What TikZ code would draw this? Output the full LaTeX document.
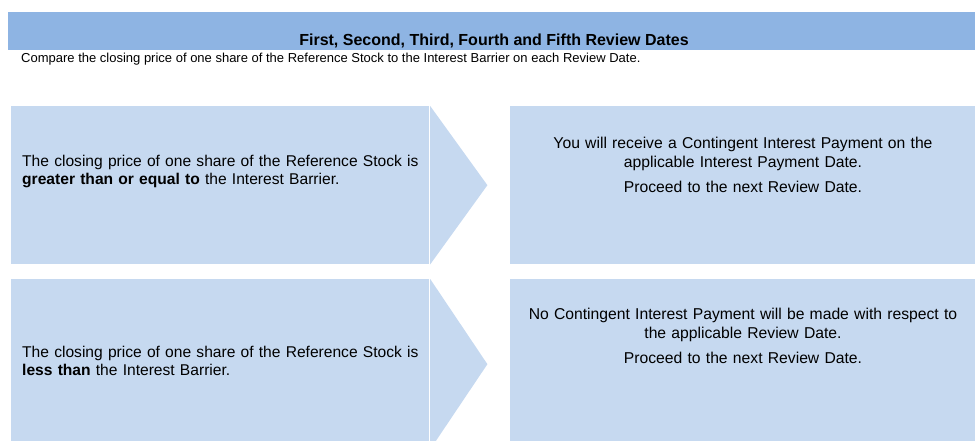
\documentclass[tikz,border=0pt]{standalone}
\usepackage{fontspec}
\setmainfont{Liberation Sans}
\usetikzlibrary{positioning}
\definecolor{barColor}{RGB}{142,180,227}
\definecolor{boxColor}{RGB}{198,217,240}

\begin{document}
\begin{tikzpicture}[x=1pt,y=-1pt]

          \tikzstyle{barNode} = [fill=barColor, inner sep=0pt, anchor=north west];
          \tikzstyle{boxNode} = [fill=boxColor, inner sep=0pt, anchor=north west];
          \tikzstyle{tipShape} = [fill=boxColor];
          \tikzstyle{titleText} = [inner sep=0pt, anchor=base, font=\fontsize{16}{18}\bfseries];
          \tikzstyle{noteText} = [inner sep=0pt, anchor=base west, font=\fontsize{13}{15}\selectfont];
          \tikzstyle{condText} = [inner sep=0pt, anchor=base west, text width=420pt, align=left, font=\fontsize{15.6}{18}\selectfont];
          \tikzstyle{resText} = [inner sep=0pt, anchor=base, text width=450pt, align=center, font=\fontsize{15.7}{19}\selectfont];

          \useasboundingbox (0,0) rectangle (975,441);
          \clip (0,0) rectangle (975,441);

          \node[barNode, minimum width=967pt, minimum height=38pt] (bar) at (8,12) {};
          \node[titleText] (title) at (494,46) {First, Second, Third, Fourth and Fifth Review Dates};
          \node[noteText] (note) at (21,63) {Compare the closing price of one share of the Reference Stock to the Interest Barrier on each Review Date.};

          \node[boxNode, minimum width=418pt, minimum height=158pt] (condHigh) at (11,106) {};
          \node[boxNode, minimum width=418pt, minimum height=170pt] (condLow) at (11,279) {};
          \node[boxNode, minimum width=465pt, minimum height=158pt] (resHigh) at (510,106) {};
          \node[boxNode, minimum width=465pt, minimum height=170pt] (resLow) at (510,279) {};

          \fill[tipShape] ([xshift=0.8pt]condHigh.north east) -- ([xshift=58pt]condHigh.east) -- ([xshift=0.8pt]condHigh.south east) -- cycle;
          \fill[tipShape] ([xshift=0.8pt]condLow.north east) -- ([xshift=58pt]condLow.east) -- ([xshift=0.8pt]condLow.south east) -- cycle;

          \node[condText] (condHighText) at (22,167) {The closing price of one share of the Reference Stock is\\\textbf{greater than or equal to} the Interest Barrier.};
          \node[condText] (condLowText) at (22,357) {The closing price of one share of the Reference Stock is\\\textbf{less than} the Interest Barrier.};
          \node[resText] (resHighText) at (743,149) {You will receive a Contingent Interest Payment on the\\applicable Interest Payment Date.\\[6pt]Proceed to the next Review Date.};
          \node[resText] (resLowText) at (743,319) {No Contingent Interest Payment will be made with respect to\\the applicable Review Date.\\[6pt]Proceed to the next Review Date.};
        \end{tikzpicture}
\end{document}
